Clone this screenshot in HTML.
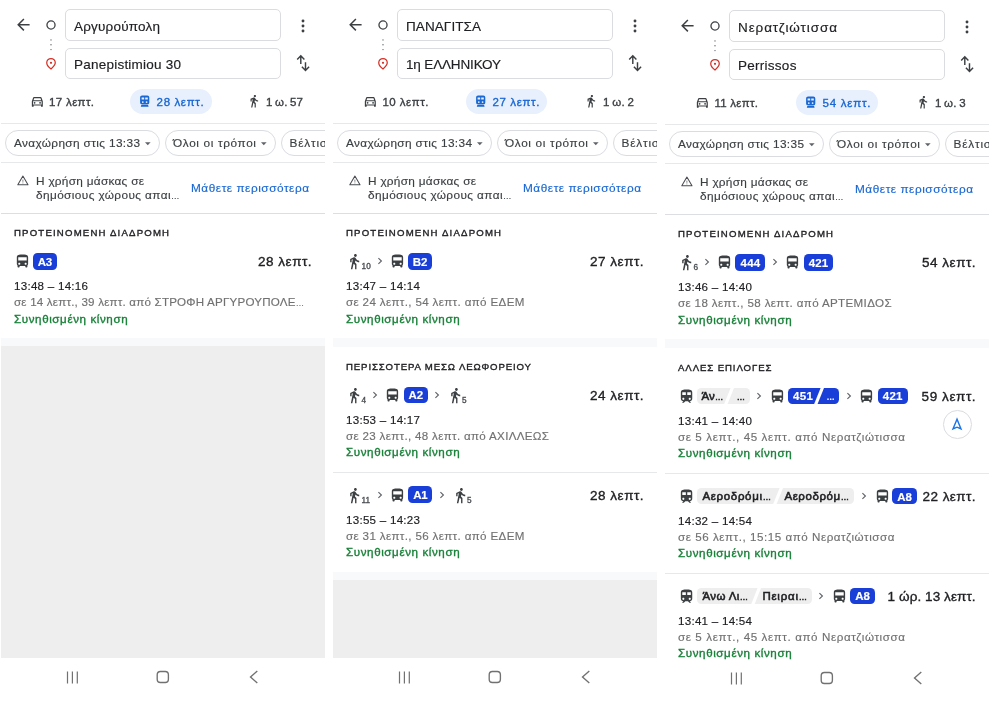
<!DOCTYPE html><html lang="el"><head><meta charset="utf-8"><title>Οδηγίες</title><style>
*{margin:0;padding:0;box-sizing:border-box}
html,body{width:995px;height:711px;background:#fff;overflow:hidden}
body{font-family:"Liberation Sans", sans-serif;position:relative}
.p{position:absolute;top:0;width:325px;height:711px;overflow:hidden}
.p>*{position:absolute}
.t{white-space:nowrap;line-height:1;display:block;-webkit-text-stroke:0.15px currentColor}
.m{-webkit-text-stroke:0.35px currentColor}
.b{font-weight:bold}
.e{font-size:.72em}
.sb{-webkit-text-stroke:0.55px currentColor}
.inp{width:216px;height:31px;border:1px solid #dadce0;border-radius:5px}
.pill{height:25px;border-radius:13px;background:#e8f0fe}
.chip{height:25.800px;border:1px solid #dadce0;border-radius:13px}
.hr{left:1px;width:324px;height:1px;background:#e7e8ea}
.hr2{left:1px;width:324px;height:1.200px;background:#dcdee1}
.band{left:1px;width:324px;height:8.400px;background:#f8f9fa}
.gray{left:1px;width:324px;background:#eee}
.bd{border-radius:4.500px}
.navc{width:28.600px;height:28.600px;border:1px solid #dadce0;border-radius:50%;background:#fff}
</style></head><body>
<div class="p" style="left:0px">
<div class="inp" style="left:65px;top:9px;height:32px"></div>
<div class="inp" style="left:65px;top:48px"></div>
<svg style="left:16.7px;top:18.2px" width="14" height="14" viewBox="0 0 14 14" ><path d="M12.6 6.7H1.4M6.9 1L1.2 6.7l5.7 5.7" fill="none" stroke="#3c4043" stroke-width="1.5" stroke-linejoin="miter"/></svg>
<svg style="left:45.4px;top:19.2px" width="12" height="12" viewBox="0 0 12 12" ><circle cx="6" cy="6" r="4.050" fill="none" stroke="#3c4043" stroke-width="1.300"/></svg>
<svg style="left:49.3px;top:37.6px" width="4" height="14" viewBox="0 0 4 14" ><circle cx="2" cy="1.900" r="0.720" fill="#6a6e73"/><circle cx="2" cy="6.750" r="0.720" fill="#6a6e73"/><circle cx="2" cy="11.600" r="0.720" fill="#6a6e73"/></svg>
<svg style="left:45.3px;top:56.9px" width="12" height="14" viewBox="0 0 12 14" ><path d="M6 1.6c-2.4 0-4.25 1.85-4.25 4.2 0 2.5 2.3 4.8 4.25 6.1 1.95-1.6 4.25-3.6 4.25-6.1 0-2.35-1.85-4.2-4.25-4.2z" fill="none" stroke="#d32f25" stroke-width="1.25"/><circle cx="6" cy="5.8" r="1.1" fill="#d32f25"/></svg>
<svg style="left:300.2px;top:17.7px" width="6" height="16" viewBox="0 0 6 16" ><circle cx="3" cy="3" r="1.45" fill="#3c4043"/><circle cx="3" cy="8" r="1.45" fill="#3c4043"/><circle cx="3" cy="13" r="1.45" fill="#3c4043"/></svg>
<svg style="left:296px;top:54.0px" width="15" height="18" viewBox="0 0 15 18" ><path d="M4.800 9.900V1.800M1.200 5.400L4.800 1.700l3.600 3.700M9.500 8.300v8.100M5.900 12.800l3.600 3.700 3.600-3.700" fill="none" stroke="#3c4043" stroke-width="1.450"/></svg>
<svg style="left:30.166666666666668px;top:93.74444444444444px" width="14.666666666666668" height="14.666666666666668" viewBox="0 0 24 24" ><path fill="#3c4043" d="M18.920 6.010C18.720 5.420 18.160 5 17.500 5h-11c-.660 0-1.210.420-1.420 1.010L3 12v8c0 .550.450 1 1 1h1c.550 0 1-.450 1-1v-1h12v1c0 .550.450 1 1 1h1c.550 0 1-.450 1-1v-8l-2.080-5.990zM6.850 7h10.290l1.080 3.110H5.770L6.850 7zM19 17H5v-5h14v5z"/><circle cx="7.500" cy="14.500" r="1.500" fill="#3c4043"/><circle cx="16.500" cy="14.500" r="1.500" fill="#3c4043"/></svg>
<div class="pill" style="left:130px;top:89px;width:82.0px"></div>
<svg style="left:139.8px;top:95px" width="10" height="12" viewBox="0 0 10 12" ><path fill="#1967d2" fill-rule="evenodd" d="M2.100 0.400h5.200c1.200 0 2 .800 2 2v5c0 1.200-.800 2-2 2H2.100c-1.200 0-2-.800-2-2v-5c0-1.200.800-2 2-2zM1.600 2.400v2.200h2.600V2.400zm3.600 0v2.200h2.600V2.400zM2.800 6.200a.9.900 0 100 1.800.9.900 0 000-1.800zm3.800 0a.9.900 0 100 1.800.9.900 0 000-1.800zM1.300 10.100h6.800l.5 1.600H.8z"/></svg>
<svg style="left:246.88px;top:94.12px" width="14.07" height="14.07" viewBox="0 0 24 24" preserveAspectRatio="none"><path fill="#3c4043" d="M13.500 5.500c1.100 0 2-.900 2-2s-.900-2-2-2-2 .900-2 2 .900 2 2 2zM9.800 8.900L7 23h2.100l1.800-8 2.100 2v6h2v-7.500l-2.100-2 .600-3C14.800 12 16.800 13 19 13v-2c-1.900 0-3.500-1-4.300-2.400l-1-1.600c-.400-.600-1-1-1.700-1-.300 0-.500.100-.800.100L6 8.300V13h2V9.600l1.800-.700"/></svg>
<div class="hr" style="top:123px"></div>
<div class="chip" style="left:5px;top:130.2px;width:154.500px"></div>
<svg style="left:145.4px;top:141.9px" width="6" height="4" viewBox="0 0 6 4" ><path d="M0 0.200h5.600L2.800 3.200z" fill="#5f6368"/></svg>
<div class="chip" style="left:164.500px;top:130.2px;width:111px"></div>
<svg style="left:261.4px;top:141.9px" width="6" height="4" viewBox="0 0 6 4" ><path d="M0 0.200h5.600L2.800 3.200z" fill="#5f6368"/></svg>
<div class="chip" style="left:280.500px;top:130.2px;width:120px"></div>
<div class="hr" style="top:162px"></div>
<svg style="left:17px;top:174.7px" width="12" height="11" viewBox="0 0 12 11" ><path d="M5.900 1.100L11 9.700H0.800z" fill="none" stroke="#4a4d51" stroke-width="1.050" stroke-linejoin="round"/><path d="M5.900 4.600v2.200M5.900 7.500v.9" stroke="#777" stroke-width="0.900"/></svg>
<div class="hr2" style="top:212.8px"></div>
<svg style="left:13.68px;top:252.62px" width="16.95" height="16.56" viewBox="0 0 24 24" preserveAspectRatio="none"><path fill="#3c4043" d="M4 16c0 .880.390 1.670 1 2.220V20c0 .550.450 1 1 1h1c.550 0 1-.450 1-1v-1h8v1c0 .550.450 1 1 1h1c.550 0 1-.450 1-1v-1.780c.610-.550 1-1.340 1-2.220V6c0-3.500-3.580-4-8-4s-8 .500-8 4v10zm3.500 1c-.830 0-1.500-.670-1.500-1.500S6.670 14 7.500 14s1.500.670 1.500 1.500S8.330 17 7.500 17zm9 0c-.830 0-1.500-.670-1.500-1.500s.670-1.500 1.500-1.500 1.500.670 1.500 1.500-.670 1.500-1.500 1.500zm1.500-6H6V6h12v5z"/></svg>
<div class="bd" style="left:33px;top:252.8px;width:24.0px;height:16.8px;background:#1a3fd8"></div>
<div class="band" style="top:338.200px"></div>
<div class="gray" style="top:346px;height:312px"></div>
<svg style="left:66.4px;top:671px" width="12" height="13" viewBox="0 0 12 13" ><path d="M1.500 .5v12M6.400 .5v12M11.300 .5v12" stroke="#717171" stroke-width="1.200"/></svg>
<svg style="left:156px;top:670px" width="14" height="14" viewBox="0 0 14 14" ><rect x="1.200" y="1.500" width="11.200" height="11" rx="3.200" fill="none" stroke="#717171" stroke-width="1.350"/></svg>
<svg style="left:248.5px;top:670.4px" width="10" height="14" viewBox="0 0 10 14" ><path d="M8.300 1L1.500 7l6.800 6" fill="none" stroke="#717171" stroke-width="1.350"/></svg>
<span class="t" style="left:74px;top:20.00px;font-size:13.5px;color:#202124;letter-spacing:0.197px">Αργυρούπολη</span>
<span class="t" style="left:74px;top:58.00px;font-size:13.5px;color:#202124;letter-spacing:0.228px">Panepistimiou 30</span>
<span class="t m" style="left:49px;top:97.00px;font-size:11.5px;color:#3c4043;letter-spacing:0.350px">17 λεπτ.</span>
<span class="t m" style="left:156.6px;top:97.00px;font-size:11.5px;color:#1967d2;letter-spacing:0.636px">28 λεπτ.</span>
<span class="t m" style="left:266px;top:97.00px;font-size:11.5px;color:#3c4043;letter-spacing:0.206px;word-spacing:-1px">1 ω. 57</span>
<span class="t" style="left:14px;top:138.01px;font-size:11.8px;color:#3c4043;letter-spacing:0.373px">Αναχώρηση στις 13:33</span>
<span class="t" style="left:173px;top:138.01px;font-size:11.8px;color:#3c4043;letter-spacing:0.638px">Όλοι οι τρόποι</span>
<span class="t" style="left:289.5px;top:138.01px;font-size:11.8px;color:#3c4043;letter-spacing:0.812px">Βέλτιστη</span>
<span class="t" style="left:36px;top:176.01px;font-size:11.8px;color:#3c4043;letter-spacing:0.290px">Η χρήση μάσκας σε</span>
<span class="t" style="left:36px;top:190.01px;font-size:11.8px;color:#3c4043;letter-spacing:0.407px">δημόσιους χώρους απαι<span class="e">…</span></span>
<span class="t" style="left:191px;top:183.01px;font-size:11.8px;color:#1967d2;letter-spacing:0.540px">Μάθετε περισσότερα</span>
<span class="t m" style="left:14px;top:228.01px;font-size:9.6px;color:#202124;letter-spacing:1.192px">ΠΡΟΤΕΙΝΟΜΕΝΗ ΔΙΑΔΡΟΜΗ</span>
<span class="t b" style="left:37.8px;top:257.00px;font-size:11.5px;color:#fff;letter-spacing:-0.303px">A3</span>
<span class="t" style="left:14px;top:280.01px;font-size:11.6px;color:#202124;letter-spacing:0.257px">13:48 – 14:16</span>
<span class="t" style="left:14px;top:296.01px;font-size:11.6px;color:#717171;letter-spacing:0.199px">σε 14 λεπτ., 39 λεπτ. από ΣΤΡΟΦΗ ΑΡΓΥΡΟΥΠΟΛΕ<span class="e">…</span></span>
<span class="t m" style="left:14px;top:313.01px;font-size:11.6px;color:#188038;letter-spacing:0.596px">Συνηθισμένη κίνηση</span>
<span class="t m" style="left:258px;top:255.00px;font-size:13.5px;color:#202124;letter-spacing:0.523px">28 λεπτ.</span>
</div>
<div class="p" style="left:332px">
<div class="inp" style="left:65px;top:9px;height:32px"></div>
<div class="inp" style="left:65px;top:48px"></div>
<svg style="left:16.7px;top:18.2px" width="14" height="14" viewBox="0 0 14 14" ><path d="M12.6 6.7H1.4M6.9 1L1.2 6.7l5.7 5.7" fill="none" stroke="#3c4043" stroke-width="1.5" stroke-linejoin="miter"/></svg>
<svg style="left:45.4px;top:19.2px" width="12" height="12" viewBox="0 0 12 12" ><circle cx="6" cy="6" r="4.050" fill="none" stroke="#3c4043" stroke-width="1.300"/></svg>
<svg style="left:49.3px;top:37.6px" width="4" height="14" viewBox="0 0 4 14" ><circle cx="2" cy="1.900" r="0.720" fill="#6a6e73"/><circle cx="2" cy="6.750" r="0.720" fill="#6a6e73"/><circle cx="2" cy="11.600" r="0.720" fill="#6a6e73"/></svg>
<svg style="left:45.3px;top:56.9px" width="12" height="14" viewBox="0 0 12 14" ><path d="M6 1.6c-2.4 0-4.25 1.85-4.25 4.2 0 2.5 2.3 4.8 4.25 6.1 1.95-1.6 4.25-3.6 4.25-6.1 0-2.35-1.85-4.2-4.25-4.2z" fill="none" stroke="#d32f25" stroke-width="1.25"/><circle cx="6" cy="5.8" r="1.1" fill="#d32f25"/></svg>
<svg style="left:300.2px;top:17.7px" width="6" height="16" viewBox="0 0 6 16" ><circle cx="3" cy="3" r="1.45" fill="#3c4043"/><circle cx="3" cy="8" r="1.45" fill="#3c4043"/><circle cx="3" cy="13" r="1.45" fill="#3c4043"/></svg>
<svg style="left:296px;top:54.0px" width="15" height="18" viewBox="0 0 15 18" ><path d="M4.800 9.900V1.800M1.200 5.400L4.800 1.700l3.600 3.700M9.500 8.300v8.100M5.900 12.800l3.600 3.700 3.600-3.700" fill="none" stroke="#3c4043" stroke-width="1.450"/></svg>
<svg style="left:31.166666666666668px;top:93.74444444444444px" width="14.666666666666668" height="14.666666666666668" viewBox="0 0 24 24" ><path fill="#3c4043" d="M18.920 6.010C18.720 5.420 18.160 5 17.500 5h-11c-.660 0-1.210.420-1.420 1.010L3 12v8c0 .550.450 1 1 1h1c.550 0 1-.450 1-1v-1h12v1c0 .550.450 1 1 1h1c.550 0 1-.450 1-1v-8l-2.080-5.990zM6.850 7h10.290l1.080 3.110H5.770L6.850 7zM19 17H5v-5h14v5z"/><circle cx="7.500" cy="14.500" r="1.500" fill="#3c4043"/><circle cx="16.500" cy="14.500" r="1.500" fill="#3c4043"/></svg>
<div class="pill" style="left:134px;top:89px;width:81.0px"></div>
<svg style="left:144.0px;top:95px" width="10" height="12" viewBox="0 0 10 12" ><path fill="#1967d2" fill-rule="evenodd" d="M2.100 0.400h5.200c1.200 0 2 .800 2 2v5c0 1.200-.800 2-2 2H2.100c-1.200 0-2-.800-2-2v-5c0-1.200.800-2 2-2zM1.600 2.400v2.200h2.600V2.400zm3.600 0v2.200h2.600V2.400zM2.800 6.200a.9.900 0 100 1.800.9.900 0 000-1.800zm3.800 0a.9.900 0 100 1.800.9.900 0 000-1.800zM1.300 10.100h6.800l.5 1.600H.8z"/></svg>
<svg style="left:252.48px;top:94.12px" width="14.07" height="14.07" viewBox="0 0 24 24" preserveAspectRatio="none"><path fill="#3c4043" d="M13.500 5.500c1.100 0 2-.900 2-2s-.900-2-2-2-2 .900-2 2 .900 2 2 2zM9.800 8.900L7 23h2.100l1.800-8 2.100 2v6h2v-7.500l-2.100-2 .600-3C14.800 12 16.800 13 19 13v-2c-1.900 0-3.500-1-4.300-2.400l-1-1.600c-.400-.600-1-1-1.700-1-.300 0-.500.100-.800.100L6 8.300V13h2V9.600l1.800-.700"/></svg>
<div class="hr" style="top:123px"></div>
<div class="chip" style="left:5px;top:130.2px;width:154.500px"></div>
<svg style="left:145.4px;top:141.9px" width="6" height="4" viewBox="0 0 6 4" ><path d="M0 0.200h5.600L2.800 3.200z" fill="#5f6368"/></svg>
<div class="chip" style="left:164.500px;top:130.2px;width:111px"></div>
<svg style="left:261.4px;top:141.9px" width="6" height="4" viewBox="0 0 6 4" ><path d="M0 0.200h5.600L2.800 3.200z" fill="#5f6368"/></svg>
<div class="chip" style="left:280.500px;top:130.2px;width:120px"></div>
<div class="hr" style="top:162px"></div>
<svg style="left:17px;top:174.7px" width="12" height="11" viewBox="0 0 12 11" ><path d="M5.900 1.100L11 9.700H0.800z" fill="none" stroke="#4a4d51" stroke-width="1.050" stroke-linejoin="round"/><path d="M5.900 4.600v2.200M5.900 7.500v.9" stroke="#777" stroke-width="0.900"/></svg>
<div class="hr2" style="top:212.8px"></div>
<svg style="left:14.02px;top:252.93px" width="16.74" height="17.08" viewBox="0 0 24 24" preserveAspectRatio="none"><path fill="#3c4043" d="M13.500 5.500c1.100 0 2-.900 2-2s-.900-2-2-2-2 .900-2 2 .900 2 2 2zM9.800 8.900L7 23h2.100l1.800-8 2.100 2v6h2v-7.500l-2.100-2 .600-3C14.800 12 16.800 13 19 13v-2c-1.900 0-3.500-1-4.300-2.400l-1-1.600c-.400-.600-1-1-1.700-1-.300 0-.500.100-.800.100L6 8.300V13h2V9.600l1.800-.700"/></svg>
<svg style="left:44.6px;top:257.4px" width="6" height="8" viewBox="0 0 6 8" ><path d="M1.400 1.200L4.400 4 1.400 6.800" fill="none" stroke="#5f6368" stroke-width="1.150"/></svg>
<svg style="left:57.07px;top:252.62px" width="16.95" height="16.56" viewBox="0 0 24 24" preserveAspectRatio="none"><path fill="#3c4043" d="M4 16c0 .880.390 1.670 1 2.220V20c0 .550.450 1 1 1h1c.550 0 1-.450 1-1v-1h8v1c0 .550.450 1 1 1h1c.550 0 1-.450 1-1v-1.780c.610-.550 1-1.340 1-2.220V6c0-3.500-3.580-4-8-4s-8 .500-8 4v10zm3.500 1c-.830 0-1.500-.670-1.500-1.500S6.670 14 7.500 14s1.500.670 1.500 1.500S8.330 17 7.500 17zm9 0c-.830 0-1.500-.670-1.500-1.500s.670-1.500 1.500-1.500 1.500.670 1.500 1.500-.670 1.500-1.500 1.500zm1.500-6H6V6h12v5z"/></svg>
<div class="bd" style="left:76px;top:252.8px;width:24.2px;height:16.8px;background:#1a3fd8"></div>
<div class="band" style="top:338.200px"></div>
<svg style="left:14.02px;top:386.73px" width="16.74" height="17.08" viewBox="0 0 24 24" preserveAspectRatio="none"><path fill="#3c4043" d="M13.500 5.500c1.100 0 2-.900 2-2s-.900-2-2-2-2 .900-2 2 .900 2 2 2zM9.800 8.900L7 23h2.100l1.800-8 2.100 2v6h2v-7.500l-2.100-2 .600-3C14.800 12 16.800 13 19 13v-2c-1.900 0-3.500-1-4.300-2.400l-1-1.600c-.400-.600-1-1-1.700-1-.300 0-.500.100-.800.100L6 8.300V13h2V9.600l1.800-.700"/></svg>
<svg style="left:40px;top:391.2px" width="6" height="8" viewBox="0 0 6 8" ><path d="M1.400 1.200L4.400 4 1.400 6.800" fill="none" stroke="#5f6368" stroke-width="1.150"/></svg>
<svg style="left:52.27px;top:386.62px" width="16.95" height="16.56" viewBox="0 0 24 24" preserveAspectRatio="none"><path fill="#3c4043" d="M4 16c0 .880.390 1.670 1 2.220V20c0 .550.450 1 1 1h1c.550 0 1-.450 1-1v-1h8v1c0 .550.450 1 1 1h1c.550 0 1-.450 1-1v-1.780c.610-.550 1-1.340 1-2.220V6c0-3.500-3.580-4-8-4s-8 .500-8 4v10zm3.500 1c-.830 0-1.500-.670-1.500-1.500S6.670 14 7.500 14s1.500.670 1.500 1.500S8.330 17 7.500 17zm9 0c-.830 0-1.500-.670-1.500-1.500s.670-1.500 1.500-1.500 1.500.670 1.500 1.500-.670 1.500-1.500 1.500zm1.500-6H6V6h12v5z"/></svg>
<div class="bd" style="left:71.6px;top:386.6px;width:24.4px;height:16.8px;background:#1a3fd8"></div>
<svg style="left:102.4px;top:391.2px" width="6" height="8" viewBox="0 0 6 8" ><path d="M1.400 1.200L4.400 4 1.400 6.800" fill="none" stroke="#5f6368" stroke-width="1.150"/></svg>
<svg style="left:114.62px;top:386.73px" width="16.74" height="17.08" viewBox="0 0 24 24" preserveAspectRatio="none"><path fill="#3c4043" d="M13.500 5.500c1.100 0 2-.900 2-2s-.900-2-2-2-2 .900-2 2 .900 2 2 2zM9.800 8.900L7 23h2.100l1.800-8 2.100 2v6h2v-7.500l-2.100-2 .600-3C14.800 12 16.800 13 19 13v-2c-1.900 0-3.500-1-4.300-2.400l-1-1.600c-.400-.600-1-1-1.700-1-.300 0-.500.100-.800.100L6 8.300V13h2V9.600l1.800-.700"/></svg>
<div class="hr" style="top:472px"></div>
<svg style="left:14.02px;top:486.53px" width="16.74" height="17.08" viewBox="0 0 24 24" preserveAspectRatio="none"><path fill="#3c4043" d="M13.500 5.500c1.100 0 2-.900 2-2s-.900-2-2-2-2 .900-2 2 .900 2 2 2zM9.800 8.900L7 23h2.100l1.800-8 2.100 2v6h2v-7.500l-2.100-2 .600-3C14.800 12 16.800 13 19 13v-2c-1.900 0-3.500-1-4.300-2.400l-1-1.600c-.400-.600-1-1-1.700-1-.300 0-.500.100-.800.100L6 8.300V13h2V9.600l1.800-.700"/></svg>
<svg style="left:44.6px;top:491.2px" width="6" height="8" viewBox="0 0 6 8" ><path d="M1.400 1.200L4.400 4 1.400 6.800" fill="none" stroke="#5f6368" stroke-width="1.150"/></svg>
<svg style="left:57.07px;top:486.62px" width="16.95" height="16.56" viewBox="0 0 24 24" preserveAspectRatio="none"><path fill="#3c4043" d="M4 16c0 .880.390 1.670 1 2.220V20c0 .550.450 1 1 1h1c.550 0 1-.450 1-1v-1h8v1c0 .550.450 1 1 1h1c.550 0 1-.450 1-1v-1.780c.610-.550 1-1.340 1-2.220V6c0-3.500-3.580-4-8-4s-8 .500-8 4v10zm3.500 1c-.830 0-1.500-.670-1.500-1.500S6.670 14 7.500 14s1.500.670 1.500 1.500S8.330 17 7.500 17zm9 0c-.830 0-1.500-.670-1.500-1.500s.670-1.500 1.500-1.500 1.500.670 1.500 1.500-.670 1.500-1.500 1.500zm1.500-6H6V6h12v5z"/></svg>
<div class="bd" style="left:76.4px;top:486.4px;width:24.0px;height:17.0px;background:#1a3fd8"></div>
<svg style="left:106.6px;top:491.2px" width="6" height="8" viewBox="0 0 6 8" ><path d="M1.400 1.200L4.400 4 1.400 6.800" fill="none" stroke="#5f6368" stroke-width="1.150"/></svg>
<svg style="left:119.62px;top:486.53px" width="16.74" height="17.08" viewBox="0 0 24 24" preserveAspectRatio="none"><path fill="#3c4043" d="M13.500 5.500c1.100 0 2-.900 2-2s-.900-2-2-2-2 .900-2 2 .900 2 2 2zM9.800 8.900L7 23h2.100l1.800-8 2.100 2v6h2v-7.500l-2.100-2 .600-3C14.800 12 16.800 13 19 13v-2c-1.900 0-3.500-1-4.300-2.400l-1-1.600c-.400-.600-1-1-1.700-1-.300 0-.500.100-.800.100L6 8.300V13h2V9.600l1.800-.700"/></svg>
<div class="band" style="top:572px"></div>
<div class="gray" style="top:580px;height:78px"></div>
<svg style="left:66.4px;top:671px" width="12" height="13" viewBox="0 0 12 13" ><path d="M1.500 .5v12M6.400 .5v12M11.300 .5v12" stroke="#717171" stroke-width="1.200"/></svg>
<svg style="left:156px;top:670px" width="14" height="14" viewBox="0 0 14 14" ><rect x="1.200" y="1.500" width="11.200" height="11" rx="3.200" fill="none" stroke="#717171" stroke-width="1.350"/></svg>
<svg style="left:248.5px;top:670.4px" width="10" height="14" viewBox="0 0 10 14" ><path d="M8.300 1L1.500 7l6.800 6" fill="none" stroke="#717171" stroke-width="1.350"/></svg>
<span class="t" style="left:74px;top:20.00px;font-size:13.5px;color:#202124;letter-spacing:0.088px">ΠΑΝΑΓΙΤΣΑ</span>
<span class="t" style="left:74px;top:58.00px;font-size:13.5px;color:#202124;letter-spacing:-0.156px">1η ΕΛΛΗΝΙΚΟΥ</span>
<span class="t m" style="left:50.4px;top:97.00px;font-size:11.5px;color:#3c4043;letter-spacing:0.493px">10 λεπτ.</span>
<span class="t m" style="left:160.4px;top:97.00px;font-size:11.5px;color:#1967d2;letter-spacing:0.636px">27 λεπτ.</span>
<span class="t m" style="left:271px;top:97.00px;font-size:11.5px;color:#3c4043;letter-spacing:0.328px;word-spacing:-1px">1 ω. 2</span>
<span class="t" style="left:14px;top:138.01px;font-size:11.8px;color:#3c4043;letter-spacing:0.373px">Αναχώρηση στις 13:34</span>
<span class="t" style="left:173px;top:138.01px;font-size:11.8px;color:#3c4043;letter-spacing:0.638px">Όλοι οι τρόποι</span>
<span class="t" style="left:289.5px;top:138.01px;font-size:11.8px;color:#3c4043;letter-spacing:0.812px">Βέλτιστη</span>
<span class="t" style="left:36px;top:176.01px;font-size:11.8px;color:#3c4043;letter-spacing:0.290px">Η χρήση μάσκας σε</span>
<span class="t" style="left:36px;top:190.01px;font-size:11.8px;color:#3c4043;letter-spacing:0.407px">δημόσιους χώρους απαι<span class="e">…</span></span>
<span class="t" style="left:191px;top:183.01px;font-size:11.8px;color:#1967d2;letter-spacing:0.540px">Μάθετε περισσότερα</span>
<span class="t m" style="left:14px;top:228.01px;font-size:9.6px;color:#202124;letter-spacing:1.192px">ΠΡΟΤΕΙΝΟΜΕΝΗ ΔΙΑΔΡΟΜΗ</span>
<span class="t m" style="left:29.599999999999998px;top:263.01px;font-size:8.2px;color:#4a4d51;letter-spacing:-0.009px">10</span>
<span class="t b" style="left:80.8px;top:257.00px;font-size:11.5px;color:#fff;letter-spacing:-0.103px">B2</span>
<span class="t" style="left:14px;top:280.01px;font-size:11.6px;color:#202124;letter-spacing:0.257px">13:47 – 14:14</span>
<span class="t" style="left:14px;top:296.01px;font-size:11.6px;color:#717171;letter-spacing:0.351px">σε 24 λεπτ., 54 λεπτ. από ΕΔΕΜ</span>
<span class="t m" style="left:14px;top:313.01px;font-size:11.6px;color:#188038;letter-spacing:0.596px">Συνηθισμένη κίνηση</span>
<span class="t m" style="left:258px;top:255.00px;font-size:13.5px;color:#202124;letter-spacing:0.523px">27 λεπτ.</span>
<span class="t m" style="left:14px;top:362.01px;font-size:9.6px;color:#202124;letter-spacing:0.887px">ΠΕΡΙΣΣΟΤΕΡΑ ΜΕΣΩ ΛΕΩΦΟΡΕΙΟΥ</span>
<span class="t m" style="left:29.599999999999998px;top:397.01px;font-size:8.2px;color:#4a4d51;letter-spacing:0.000px">4</span>
<span class="t b" style="left:76.39999999999999px;top:390.00px;font-size:11.5px;color:#fff;letter-spacing:0.097px">A2</span>
<span class="t m" style="left:130.0px;top:397.01px;font-size:8.2px;color:#4a4d51;letter-spacing:0.000px">5</span>
<span class="t" style="left:14px;top:414.01px;font-size:11.6px;color:#202124;letter-spacing:0.257px">13:53 – 14:17</span>
<span class="t" style="left:14px;top:430.01px;font-size:11.6px;color:#717171;letter-spacing:0.320px">σε 23 λεπτ., 48 λεπτ. από ΑΧΙΛΛΕΩΣ</span>
<span class="t m" style="left:14px;top:446.01px;font-size:11.6px;color:#188038;letter-spacing:0.596px">Συνηθισμένη κίνηση</span>
<span class="t m" style="left:258px;top:389.00px;font-size:13.5px;color:#202124;letter-spacing:0.523px">24 λεπτ.</span>
<span class="t m" style="left:29.599999999999998px;top:497.01px;font-size:8.2px;color:#4a4d51;letter-spacing:0.000px">11</span>
<span class="t b" style="left:81.2px;top:490.00px;font-size:11.5px;color:#fff;letter-spacing:-0.303px">A1</span>
<span class="t m" style="left:135.0px;top:497.01px;font-size:8.2px;color:#4a4d51;letter-spacing:0.000px">5</span>
<span class="t" style="left:14px;top:514.01px;font-size:11.6px;color:#202124;letter-spacing:0.257px">13:55 – 14:23</span>
<span class="t" style="left:14px;top:530.01px;font-size:11.6px;color:#717171;letter-spacing:0.351px">σε 31 λεπτ., 56 λεπτ. από ΕΔΕΜ</span>
<span class="t m" style="left:14px;top:546.01px;font-size:11.6px;color:#188038;letter-spacing:0.596px">Συνηθισμένη κίνηση</span>
<span class="t m" style="left:258px;top:489.00px;font-size:13.5px;color:#202124;letter-spacing:0.523px">28 λεπτ.</span>
</div>
<div class="p" style="left:664px">
<div class="inp" style="left:65px;top:10px;height:32px"></div>
<div class="inp" style="left:65px;top:49px"></div>
<svg style="left:16.7px;top:19.2px" width="14" height="14" viewBox="0 0 14 14" ><path d="M12.6 6.7H1.4M6.9 1L1.2 6.7l5.7 5.7" fill="none" stroke="#3c4043" stroke-width="1.5" stroke-linejoin="miter"/></svg>
<svg style="left:45.4px;top:20.2px" width="12" height="12" viewBox="0 0 12 12" ><circle cx="6" cy="6" r="4.050" fill="none" stroke="#3c4043" stroke-width="1.300"/></svg>
<svg style="left:49.3px;top:38.6px" width="4" height="14" viewBox="0 0 4 14" ><circle cx="2" cy="1.900" r="0.720" fill="#6a6e73"/><circle cx="2" cy="6.750" r="0.720" fill="#6a6e73"/><circle cx="2" cy="11.600" r="0.720" fill="#6a6e73"/></svg>
<svg style="left:45.3px;top:57.9px" width="12" height="14" viewBox="0 0 12 14" ><path d="M6 1.6c-2.4 0-4.25 1.85-4.25 4.2 0 2.5 2.3 4.8 4.25 6.1 1.95-1.6 4.25-3.6 4.25-6.1 0-2.35-1.85-4.2-4.25-4.2z" fill="none" stroke="#d32f25" stroke-width="1.25"/><circle cx="6" cy="5.8" r="1.1" fill="#d32f25"/></svg>
<svg style="left:300.2px;top:18.7px" width="6" height="16" viewBox="0 0 6 16" ><circle cx="3" cy="3" r="1.45" fill="#3c4043"/><circle cx="3" cy="8" r="1.45" fill="#3c4043"/><circle cx="3" cy="13" r="1.45" fill="#3c4043"/></svg>
<svg style="left:296px;top:55.0px" width="15" height="18" viewBox="0 0 15 18" ><path d="M4.800 9.900V1.800M1.200 5.400L4.800 1.700l3.600 3.700M9.500 8.300v8.100M5.900 12.800l3.600 3.700 3.600-3.700" fill="none" stroke="#3c4043" stroke-width="1.450"/></svg>
<svg style="left:31.166666666666668px;top:94.74444444444444px" width="14.666666666666668" height="14.666666666666668" viewBox="0 0 24 24" ><path fill="#3c4043" d="M18.920 6.010C18.720 5.420 18.160 5 17.500 5h-11c-.660 0-1.210.420-1.420 1.010L3 12v8c0 .550.450 1 1 1h1c.550 0 1-.450 1-1v-1h12v1c0 .550.450 1 1 1h1c.550 0 1-.450 1-1v-8l-2.080-5.990zM6.850 7h10.290l1.080 3.110H5.770L6.850 7zM19 17H5v-5h14v5z"/><circle cx="7.500" cy="14.500" r="1.500" fill="#3c4043"/><circle cx="16.500" cy="14.500" r="1.500" fill="#3c4043"/></svg>
<div class="pill" style="left:132px;top:90px;width:82.4px"></div>
<svg style="left:141.8px;top:96px" width="10" height="12" viewBox="0 0 10 12" ><path fill="#1967d2" fill-rule="evenodd" d="M2.100 0.400h5.200c1.200 0 2 .800 2 2v5c0 1.200-.800 2-2 2H2.100c-1.200 0-2-.800-2-2v-5c0-1.200.800-2 2-2zM1.600 2.400v2.200h2.600V2.400zm3.600 0v2.200h2.600V2.400zM2.800 6.200a.9.900 0 100 1.800.9.900 0 000-1.800zm3.800 0a.9.900 0 100 1.800.9.900 0 000-1.800zM1.300 10.100h6.800l.5 1.600H.8z"/></svg>
<svg style="left:251.88px;top:95.12px" width="14.07" height="14.07" viewBox="0 0 24 24" preserveAspectRatio="none"><path fill="#3c4043" d="M13.500 5.500c1.100 0 2-.900 2-2s-.900-2-2-2-2 .900-2 2 .900 2 2 2zM9.800 8.900L7 23h2.100l1.800-8 2.100 2v6h2v-7.500l-2.100-2 .600-3C14.800 12 16.800 13 19 13v-2c-1.900 0-3.500-1-4.300-2.400l-1-1.600c-.400-.600-1-1-1.700-1-.300 0-.500.100-.800.100L6 8.300V13h2V9.600l1.800-.700"/></svg>
<div class="hr" style="top:124px"></div>
<div class="chip" style="left:5px;top:131.2px;width:154.500px"></div>
<svg style="left:145.4px;top:142.9px" width="6" height="4" viewBox="0 0 6 4" ><path d="M0 0.200h5.600L2.800 3.200z" fill="#5f6368"/></svg>
<div class="chip" style="left:164.500px;top:131.2px;width:111px"></div>
<svg style="left:261.4px;top:142.9px" width="6" height="4" viewBox="0 0 6 4" ><path d="M0 0.200h5.600L2.800 3.200z" fill="#5f6368"/></svg>
<div class="chip" style="left:280.500px;top:131.2px;width:120px"></div>
<div class="hr" style="top:163px"></div>
<svg style="left:17px;top:175.7px" width="12" height="11" viewBox="0 0 12 11" ><path d="M5.900 1.100L11 9.700H0.800z" fill="none" stroke="#4a4d51" stroke-width="1.050" stroke-linejoin="round"/><path d="M5.900 4.600v2.200M5.900 7.500v.9" stroke="#777" stroke-width="0.900"/></svg>
<div class="hr2" style="top:213.8px"></div>
<svg style="left:14.02px;top:253.93px" width="16.74" height="17.08" viewBox="0 0 24 24" preserveAspectRatio="none"><path fill="#3c4043" d="M13.500 5.500c1.100 0 2-.900 2-2s-.900-2-2-2-2 .900-2 2 .900 2 2 2zM9.800 8.900L7 23h2.100l1.800-8 2.100 2v6h2v-7.500l-2.100-2 .600-3C14.800 12 16.800 13 19 13v-2c-1.900 0-3.500-1-4.300-2.400l-1-1.600c-.400-.600-1-1-1.700-1-.300 0-.500.100-.800.100L6 8.300V13h2V9.600l1.800-.700"/></svg>
<svg style="left:40px;top:258.4px" width="6" height="8" viewBox="0 0 6 8" ><path d="M1.400 1.200L4.400 4 1.400 6.800" fill="none" stroke="#5f6368" stroke-width="1.150"/></svg>
<svg style="left:52.27px;top:253.62px" width="16.95" height="16.56" viewBox="0 0 24 24" preserveAspectRatio="none"><path fill="#3c4043" d="M4 16c0 .880.390 1.670 1 2.220V20c0 .550.450 1 1 1h1c.550 0 1-.450 1-1v-1h8v1c0 .550.450 1 1 1h1c.550 0 1-.450 1-1v-1.780c.610-.550 1-1.340 1-2.220V6c0-3.500-3.580-4-8-4s-8 .500-8 4v10zm3.500 1c-.830 0-1.500-.670-1.500-1.500S6.670 14 7.500 14s1.500.670 1.500 1.500S8.330 17 7.500 17zm9 0c-.830 0-1.500-.670-1.500-1.500s.670-1.500 1.500-1.500 1.500.670 1.500 1.500-.670 1.500-1.500 1.500zm1.500-6H6V6h12v5z"/></svg>
<div class="bd" style="left:71.4px;top:254.0px;width:30.0px;height:16.6px;background:#1a3fd8"></div>
<svg style="left:107.6px;top:258.4px" width="6" height="8" viewBox="0 0 6 8" ><path d="M1.400 1.200L4.400 4 1.400 6.800" fill="none" stroke="#5f6368" stroke-width="1.150"/></svg>
<svg style="left:120.27px;top:253.62px" width="16.95" height="16.56" viewBox="0 0 24 24" preserveAspectRatio="none"><path fill="#3c4043" d="M4 16c0 .880.390 1.670 1 2.220V20c0 .550.450 1 1 1h1c.550 0 1-.450 1-1v-1h8v1c0 .550.450 1 1 1h1c.550 0 1-.450 1-1v-1.780c.610-.550 1-1.340 1-2.220V6c0-3.500-3.580-4-8-4s-8 .500-8 4v10zm3.500 1c-.830 0-1.500-.670-1.500-1.500S6.670 14 7.500 14s1.500.670 1.500 1.500S8.330 17 7.500 17zm9 0c-.830 0-1.500-.670-1.500-1.500s.670-1.500 1.500-1.500 1.500.670 1.500 1.500-.670 1.500-1.500 1.500zm1.500-6H6V6h12v5z"/></svg>
<div class="bd" style="left:139.6px;top:254.0px;width:29.8px;height:16.6px;background:#1a3fd8"></div>
<div class="band" style="top:339.200px"></div>
<svg style="left:14.15px;top:387.60px" width="17.10" height="16.80" viewBox="0 0 24 24" preserveAspectRatio="none"><path fill="#3c4043" d="M12 2c-4 0-8 .5-8 4v9.500C4 17.430 5.570 19 7.500 19L6 20.500v.5h2.230l2-2H14l2 2h2v-.5L16.500 19c1.930 0 3.500-1.570 3.500-3.500V6c0-3.500-3.580-4-8-4zM7.500 17c-.830 0-1.500-.670-1.500-1.500S6.670 14 7.500 14s1.500.670 1.500 1.500S8.330 17 7.500 17zm3.500-7H6V6h5v4zm2 0V6h5v4h-5zm3.500 7c-.830 0-1.500-.670-1.500-1.500s.670-1.500 1.500-1.500 1.500.670 1.500 1.500-.670 1.500-1.500 1.500z"/></svg>
<div class="bd" style="left:33.4px;top:388px;width:52.2px;height:16.4px;background:#eeeeee"></div>
<svg style="left:59.0px;top:388px" width="12" height="16.4" viewBox="0 0 12 16.4"><path d="M7.600 0h3.400L4.400 16.4H1z" fill="#fff"/></svg>
<svg style="left:92.4px;top:392.2px" width="6" height="8" viewBox="0 0 6 8" ><path d="M1.400 1.200L4.400 4 1.400 6.800" fill="none" stroke="#5f6368" stroke-width="1.150"/></svg>
<svg style="left:105.08px;top:387.62px" width="16.95" height="16.56" viewBox="0 0 24 24" preserveAspectRatio="none"><path fill="#3c4043" d="M4 16c0 .880.390 1.670 1 2.220V20c0 .550.450 1 1 1h1c.550 0 1-.450 1-1v-1h8v1c0 .550.450 1 1 1h1c.550 0 1-.450 1-1v-1.780c.610-.550 1-1.340 1-2.220V6c0-3.500-3.580-4-8-4s-8 .500-8 4v10zm3.500 1c-.830 0-1.500-.670-1.500-1.500S6.670 14 7.500 14s1.500.670 1.500 1.500S8.330 17 7.500 17zm9 0c-.830 0-1.500-.670-1.500-1.500s.670-1.500 1.500-1.500 1.500.670 1.500 1.500-.670 1.500-1.500 1.500zm1.500-6H6V6h12v5z"/></svg>
<div class="bd" style="left:124px;top:388px;width:51.4px;height:16.4px;background:#1a3fd8"></div>
<svg style="left:149.0px;top:388px" width="12" height="16.4" viewBox="0 0 12 16.4"><path d="M7.600 0h3.400L4.400 16.4H1z" fill="#fff"/></svg>
<svg style="left:182px;top:392.2px" width="6" height="8" viewBox="0 0 6 8" ><path d="M1.400 1.200L4.400 4 1.400 6.800" fill="none" stroke="#5f6368" stroke-width="1.150"/></svg>
<svg style="left:194.28px;top:387.62px" width="16.95" height="16.56" viewBox="0 0 24 24" preserveAspectRatio="none"><path fill="#3c4043" d="M4 16c0 .880.390 1.670 1 2.220V20c0 .550.450 1 1 1h1c.550 0 1-.450 1-1v-1h8v1c0 .550.450 1 1 1h1c.550 0 1-.450 1-1v-1.780c.610-.550 1-1.340 1-2.220V6c0-3.500-3.580-4-8-4s-8 .500-8 4v10zm3.500 1c-.830 0-1.500-.670-1.500-1.500S6.670 14 7.500 14s1.500.670 1.500 1.500S8.330 17 7.500 17zm9 0c-.830 0-1.500-.670-1.500-1.500s.670-1.500 1.500-1.500 1.500.670 1.500 1.500-.670 1.500-1.500 1.500zm1.500-6H6V6h12v5z"/></svg>
<div class="bd" style="left:213.6px;top:387.6px;width:30.0px;height:16.9px;background:#1a3fd8"></div>
<div class="navc" style="left:279px;top:410px"></div>
<svg style="left:287.3px;top:417.2px" width="12" height="14" viewBox="0 0 12 14" ><path d="M6 2.200L2 12 6 10.200l4 1.800z" fill="none" stroke="#1a73e8" stroke-width="1.400" stroke-linejoin="miter"/></svg>
<div class="hr" style="top:473px"></div>
<svg style="left:14.15px;top:487.60px" width="17.10" height="16.80" viewBox="0 0 24 24" preserveAspectRatio="none"><path fill="#3c4043" d="M12 2c-4 0-8 .5-8 4v9.500C4 17.430 5.570 19 7.500 19L6 20.500v.5h2.230l2-2H14l2 2h2v-.5L16.500 19c1.930 0 3.500-1.570 3.500-3.500V6c0-3.500-3.580-4-8-4zM7.500 17c-.830 0-1.500-.670-1.500-1.500S6.670 14 7.500 14s1.500.670 1.500 1.500S8.330 17 7.500 17zm3.500-7H6V6h5v4zm2 0V6h5v4h-5zm3.500 7c-.830 0-1.500-.670-1.500-1.500s.670-1.500 1.500-1.500 1.500.670 1.500 1.500-.670 1.500-1.500 1.500z"/></svg>
<div class="bd" style="left:33.4px;top:488px;width:156.6px;height:16.4px;background:#eeeeee"></div>
<svg style="left:107.6px;top:488px" width="12" height="16.4" viewBox="0 0 12 16.4"><path d="M7.600 0h3.400L4.400 16.4H1z" fill="#fff"/></svg>
<svg style="left:197px;top:492.2px" width="6" height="8" viewBox="0 0 6 8" ><path d="M1.400 1.200L4.400 4 1.400 6.800" fill="none" stroke="#5f6368" stroke-width="1.150"/></svg>
<svg style="left:209.68px;top:487.62px" width="16.95" height="16.56" viewBox="0 0 24 24" preserveAspectRatio="none"><path fill="#3c4043" d="M4 16c0 .880.390 1.670 1 2.220V20c0 .550.450 1 1 1h1c.550 0 1-.450 1-1v-1h8v1c0 .550.450 1 1 1h1c.550 0 1-.450 1-1v-1.780c.610-.550 1-1.340 1-2.220V6c0-3.500-3.580-4-8-4s-8 .500-8 4v10zm3.500 1c-.830 0-1.500-.670-1.500-1.500S6.670 14 7.500 14s1.500.670 1.500 1.500S8.330 17 7.500 17zm9 0c-.830 0-1.500-.670-1.500-1.500s.670-1.500 1.500-1.500 1.500.670 1.500 1.500-.670 1.500-1.500 1.500zm1.500-6H6V6h12v5z"/></svg>
<div class="bd" style="left:228.4px;top:488.0px;width:24.2px;height:16.4px;background:#1a3fd8"></div>
<div class="hr" style="top:573px"></div>
<svg style="left:14.15px;top:587.60px" width="17.10" height="16.80" viewBox="0 0 24 24" preserveAspectRatio="none"><path fill="#3c4043" d="M12 2c-4 0-8 .5-8 4v9.500C4 17.430 5.570 19 7.500 19L6 20.500v.5h2.230l2-2H14l2 2h2v-.5L16.500 19c1.930 0 3.500-1.570 3.500-3.500V6c0-3.500-3.580-4-8-4zM7.500 17c-.830 0-1.500-.670-1.500-1.500S6.670 14 7.500 14s1.500.670 1.500 1.500S8.330 17 7.500 17zm3.500-7H6V6h5v4zm2 0V6h5v4h-5zm3.500 7c-.830 0-1.500-.670-1.500-1.500s.670-1.500 1.500-1.500 1.500.670 1.500 1.500-.670 1.500-1.500 1.500z"/></svg>
<div class="bd" style="left:33.4px;top:587.6px;width:114.6px;height:16.8px;background:#eeeeee"></div>
<svg style="left:85.6px;top:587.6px" width="12" height="16.8" viewBox="0 0 12 16.8"><path d="M7.600 0h3.400L4.400 16.8H1z" fill="#fff"/></svg>
<svg style="left:154.4px;top:592px" width="6" height="8" viewBox="0 0 6 8" ><path d="M1.400 1.200L4.400 4 1.400 6.800" fill="none" stroke="#5f6368" stroke-width="1.150"/></svg>
<svg style="left:167.28px;top:587.62px" width="16.95" height="16.56" viewBox="0 0 24 24" preserveAspectRatio="none"><path fill="#3c4043" d="M4 16c0 .880.390 1.670 1 2.220V20c0 .550.450 1 1 1h1c.550 0 1-.450 1-1v-1h8v1c0 .550.450 1 1 1h1c.550 0 1-.450 1-1v-1.780c.610-.550 1-1.340 1-2.220V6c0-3.500-3.580-4-8-4s-8 .500-8 4v10zm3.500 1c-.830 0-1.500-.670-1.500-1.500S6.670 14 7.500 14s1.500.670 1.500 1.500S8.330 17 7.500 17zm9 0c-.830 0-1.500-.670-1.500-1.500s.670-1.500 1.500-1.500 1.500.670 1.500 1.500-.670 1.500-1.500 1.500zm1.500-6H6V6h12v5z"/></svg>
<div class="bd" style="left:186.4px;top:587.6px;width:24.2px;height:16.8px;background:#1a3fd8"></div>
<svg style="left:66.4px;top:672px" width="12" height="13" viewBox="0 0 12 13" ><path d="M1.500 .5v12M6.400 .5v12M11.300 .5v12" stroke="#717171" stroke-width="1.200"/></svg>
<svg style="left:156px;top:671px" width="14" height="14" viewBox="0 0 14 14" ><rect x="1.200" y="1.500" width="11.200" height="11" rx="3.200" fill="none" stroke="#717171" stroke-width="1.350"/></svg>
<svg style="left:248.5px;top:671.4px" width="10" height="14" viewBox="0 0 10 14" ><path d="M8.300 1L1.500 7l6.800 6" fill="none" stroke="#717171" stroke-width="1.350"/></svg>
<span class="t" style="left:74px;top:21.00px;font-size:13.5px;color:#202124;letter-spacing:0.895px">Νερατζιώτισσα</span>
<span class="t" style="left:74px;top:59.00px;font-size:13.5px;color:#202124;letter-spacing:0.267px">Perrissos</span>
<span class="t m" style="left:50.4px;top:98.00px;font-size:11.5px;color:#3c4043;letter-spacing:0.273px">11 λεπτ.</span>
<span class="t m" style="left:158.6px;top:98.00px;font-size:11.5px;color:#1967d2;letter-spacing:0.750px">54 λεπτ.</span>
<span class="t m" style="left:271px;top:98.00px;font-size:11.5px;color:#3c4043;letter-spacing:0.248px;word-spacing:-1px">1 ω. 3</span>
<span class="t" style="left:14px;top:139.01px;font-size:11.8px;color:#3c4043;letter-spacing:0.373px">Αναχώρηση στις 13:35</span>
<span class="t" style="left:173px;top:139.01px;font-size:11.8px;color:#3c4043;letter-spacing:0.638px">Όλοι οι τρόποι</span>
<span class="t" style="left:289.5px;top:139.01px;font-size:11.8px;color:#3c4043;letter-spacing:0.812px">Βέλτιστη</span>
<span class="t" style="left:36px;top:177.01px;font-size:11.8px;color:#3c4043;letter-spacing:0.290px">Η χρήση μάσκας σε</span>
<span class="t" style="left:36px;top:191.01px;font-size:11.8px;color:#3c4043;letter-spacing:0.407px">δημόσιους χώρους απαι<span class="e">…</span></span>
<span class="t" style="left:191px;top:184.01px;font-size:11.8px;color:#1967d2;letter-spacing:0.540px">Μάθετε περισσότερα</span>
<span class="t m" style="left:14px;top:229.01px;font-size:9.6px;color:#202124;letter-spacing:1.192px">ΠΡΟΤΕΙΝΟΜΕΝΗ ΔΙΑΔΡΟΜΗ</span>
<span class="t m" style="left:29.599999999999998px;top:264.01px;font-size:8.2px;color:#4a4d51;letter-spacing:0.000px">6</span>
<span class="t b" style="left:76.60000000000001px;top:258.00px;font-size:11.5px;color:#fff;letter-spacing:0.206px">444</span>
<span class="t b" style="left:144.79999999999998px;top:258.00px;font-size:11.5px;color:#fff;letter-spacing:0.106px">421</span>
<span class="t" style="left:14px;top:281.01px;font-size:11.6px;color:#202124;letter-spacing:0.257px">13:46 – 14:40</span>
<span class="t" style="left:14px;top:297.01px;font-size:11.6px;color:#717171;letter-spacing:0.354px">σε 18 λεπτ., 58 λεπτ. από ΑΡΤΕΜΙΔΟΣ</span>
<span class="t m" style="left:14px;top:314.01px;font-size:11.6px;color:#188038;letter-spacing:0.596px">Συνηθισμένη κίνηση</span>
<span class="t m" style="left:258px;top:256.00px;font-size:13.5px;color:#202124;letter-spacing:0.523px">54 λεπτ.</span>
<span class="t m" style="left:14px;top:363.01px;font-size:9.6px;color:#202124;letter-spacing:0.915px">ΑΛΛΕΣ ΕΠΙΛΟΓΕΣ</span>
<span class="t sb" style="left:37.6px;top:391.00px;font-size:11.5px;color:#202124;letter-spacing:0.058px">Άν<span class="e">…</span></span>
<span class="t sb" style="left:72.8px;top:391.00px;font-size:11.5px;color:#202124;letter-spacing:0.000px"><span class="e">…</span></span>
<span class="t b" style="left:129px;top:391.00px;font-size:11.5px;color:#fff;letter-spacing:0.406px">451</span>
<span class="t b" style="left:162.6px;top:391.00px;font-size:11.5px;color:#fff;letter-spacing:0.000px"><span class="e">…</span></span>
<span class="t b" style="left:218.79999999999998px;top:391.00px;font-size:11.5px;color:#fff;letter-spacing:0.206px">421</span>
<span class="t" style="left:14px;top:415.01px;font-size:11.6px;color:#202124;letter-spacing:0.257px">13:41 – 14:40</span>
<span class="t" style="left:14px;top:431.01px;font-size:11.6px;color:#717171;letter-spacing:0.603px">σε 5 λεπτ., 45 λεπτ. από Νερατζιώτισσα</span>
<span class="t m" style="left:14px;top:447.01px;font-size:11.6px;color:#188038;letter-spacing:0.596px">Συνηθισμένη κίνηση</span>
<span class="t m" style="left:257.6px;top:390.00px;font-size:13.5px;color:#202124;letter-spacing:0.580px">59 λεπτ.</span>
<span class="t sb" style="left:38.4px;top:491.00px;font-size:11.5px;color:#202124;letter-spacing:0.674px">Αεροδρόμι<span class="e">…</span></span>
<span class="t sb" style="left:120.4px;top:491.00px;font-size:11.5px;color:#202124;letter-spacing:0.579px">Αεροδρόμ<span class="e">…</span></span>
<span class="t b" style="left:233.20000000000002px;top:492.00px;font-size:11.5px;color:#fff;letter-spacing:-0.103px">A8</span>
<span class="t" style="left:14px;top:515.01px;font-size:11.6px;color:#202124;letter-spacing:0.257px">14:32 – 14:54</span>
<span class="t" style="left:14px;top:531.01px;font-size:11.6px;color:#717171;letter-spacing:0.547px">σε 56 λεπτ., 15:15 από Νερατζιώτισσα</span>
<span class="t m" style="left:14px;top:547.01px;font-size:11.6px;color:#188038;letter-spacing:0.596px">Συνηθισμένη κίνηση</span>
<span class="t m" style="left:258.6px;top:490.00px;font-size:13.5px;color:#202124;letter-spacing:0.438px">22 λεπτ.</span>
<span class="t sb" style="left:38.4px;top:591.00px;font-size:11.5px;color:#202124;letter-spacing:0.389px">Άνω Λι<span class="e">…</span></span>
<span class="t sb" style="left:98.4px;top:591.00px;font-size:11.5px;color:#202124;letter-spacing:0.767px">Πειραι<span class="e">…</span></span>
<span class="t b" style="left:191.20000000000002px;top:591.00px;font-size:11.5px;color:#fff;letter-spacing:-0.103px">A8</span>
<span class="t" style="left:14px;top:615.01px;font-size:11.6px;color:#202124;letter-spacing:0.257px">13:41 – 14:54</span>
<span class="t" style="left:14px;top:631.01px;font-size:11.6px;color:#717171;letter-spacing:0.603px">σε 5 λεπτ., 45 λεπτ. από Νερατζιώτισσα</span>
<span class="t m" style="left:14px;top:647.01px;font-size:11.6px;color:#188038;letter-spacing:0.596px">Συνηθισμένη κίνηση</span>
<span class="t m" style="left:223.6px;top:590.00px;font-size:13.5px;color:#202124;letter-spacing:0.083px">1 ώρ. 13 λεπτ.</span>
</div>
</body></html>
